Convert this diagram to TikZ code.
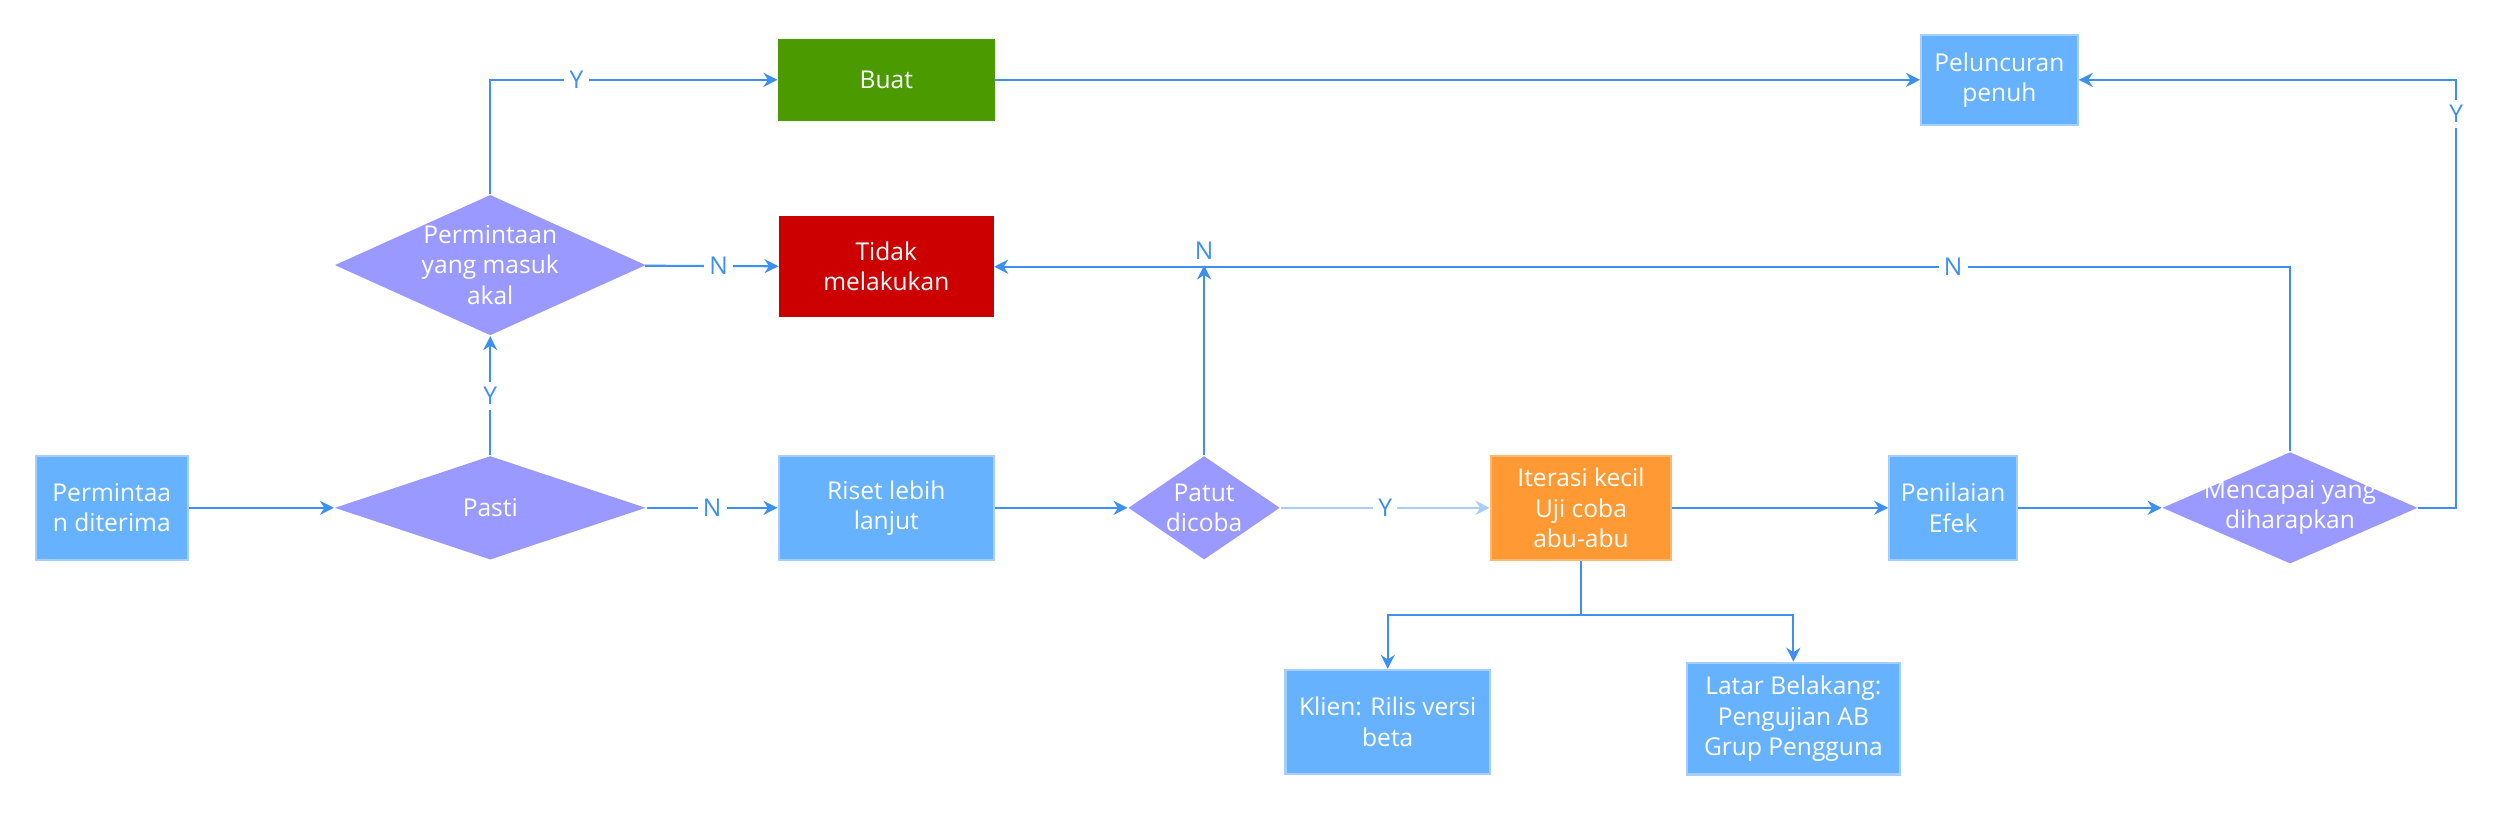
\documentclass[tikz,border=0pt]{standalone}
\usepackage{fontspec}
\setmainfont{Open Sans}
\usetikzlibrary{shapes.geometric,arrows.meta}
\definecolor{linec}{HTML}{3D8FF0}
\definecolor{boxc}{HTML}{66B2FF}
\definecolor{boxb}{HTML}{A6CFFF}
\definecolor{diac}{HTML}{9A99FF}
\definecolor{greenc}{HTML}{4B9A00}
\definecolor{redc}{HTML}{CC0000}
\definecolor{orangec}{HTML}{FF9933}
\tikzset{
  proc/.style={draw=boxb,line width=0.6pt,fill=boxc,text=white,align=center,inner sep=0pt},
  dec/.style={diamond,fill=diac,inner sep=0pt,
    label={[text=white,align=center]center:#1}},
  lab/.style={fill=white,text=linec,inner sep=1.5pt},
  flow/.style={draw=linec,line width=0.6pt,-{Stealth[length=4pt,width=4pt]}}
}
\begin{document}
\begin{tikzpicture}[x=0.016cm,y=-0.016cm,font=\fontsize{7}{8.6}\selectfont]
\useasboundingbox (0,0) rectangle (1568,509);
% boxes
\node[proc,minimum width=1.52cm,minimum height=1.04cm] (req) at (70,318) {Permintaa\\n diterima};
\node[proc,minimum width=2.16cm,minimum height=1.04cm] (riset) at (555,318) {Riset lebih\\lanjut};
\node[proc,fill=greenc,draw=greenc,minimum width=2.16cm,minimum height=0.8cm] (buat) at (555,50) {Buat};
\node[proc,fill=redc,draw=redc,minimum width=2.14cm,minimum height=0.99cm] (tidak) at (555,167) {Tidak\\melakukan};
\node[proc,fill=orangec,draw=orangec!70,minimum width=1.81cm,minimum height=1.04cm] (iter) at (990,318) {Iterasi kecil\\Uji coba\\abu-abu};
\node[proc,minimum width=1.28cm,minimum height=1.04cm] (nilai) at (1223,318) {Penilaian\\Efek};
\node[proc,minimum width=1.57cm,minimum height=0.9cm] (luncur) at (1252,50) {Peluncuran\\penuh};
\node[proc,minimum width=2.05cm,minimum height=1.04cm] (klien) at (869,452) {Klien: Rilis versi\\beta};
\node[proc,minimum width=2.14cm,minimum height=1.12cm] (latar) at (1123,450) {Latar Belakang:\\Pengujian AB\\Grup Pengguna};
% diamonds
\node[dec={Pasti},minimum width=3.12cm,minimum height=1.04cm] (pasti) at (307,318) {};
\node[dec={Permintaan\\yang masuk\\akal},minimum width=3.12cm,minimum height=1.41cm] (akal) at (307,166) {};
\node[dec={Patut\\dicoba},minimum width=1.52cm,minimum height=1.04cm] (patut) at (754,318) {};
\node[dec={Mencapai yang\\diharapkan},minimum width=2.56cm,minimum height=1.12cm] (capai) at (1434,318) {};
% connectors
\draw[flow] (req) -- (pasti);
\draw[flow] (pasti) -- node[lab]{N} (riset);
\draw[flow] (pasti) -- node[lab]{Y} (akal);
\draw[flow] (akal.north) |- node[lab,pos=0.65]{Y} (buat);
\draw[flow] (akal) -- node[lab,pos=0.55]{N} (tidak);
\draw[flow] (riset) -- (patut);
\draw[flow,draw=linec!45] (patut) -- node[lab]{Y} (iter);
\node[lab] (nlab) at (754,157) {N};
\draw[flow] (patut) -- (nlab);
\draw[flow] (capai.north) |- node[lab,pos=0.63]{N} (tidak);
\draw[flow] (iter) -- (nilai);
\draw[flow] (nilai) -- (capai);
\draw[flow] (capai.east) -| node[lab,pos=0.96]{Y} (1538,50) -- (luncur);
\draw[flow] (buat) -- (luncur);
\coordinate (split) at (990,385);
\draw[flow] (iter) -- (split) -| (klien);
\draw[flow] (split) -| (latar);
\end{tikzpicture}
\end{document}
